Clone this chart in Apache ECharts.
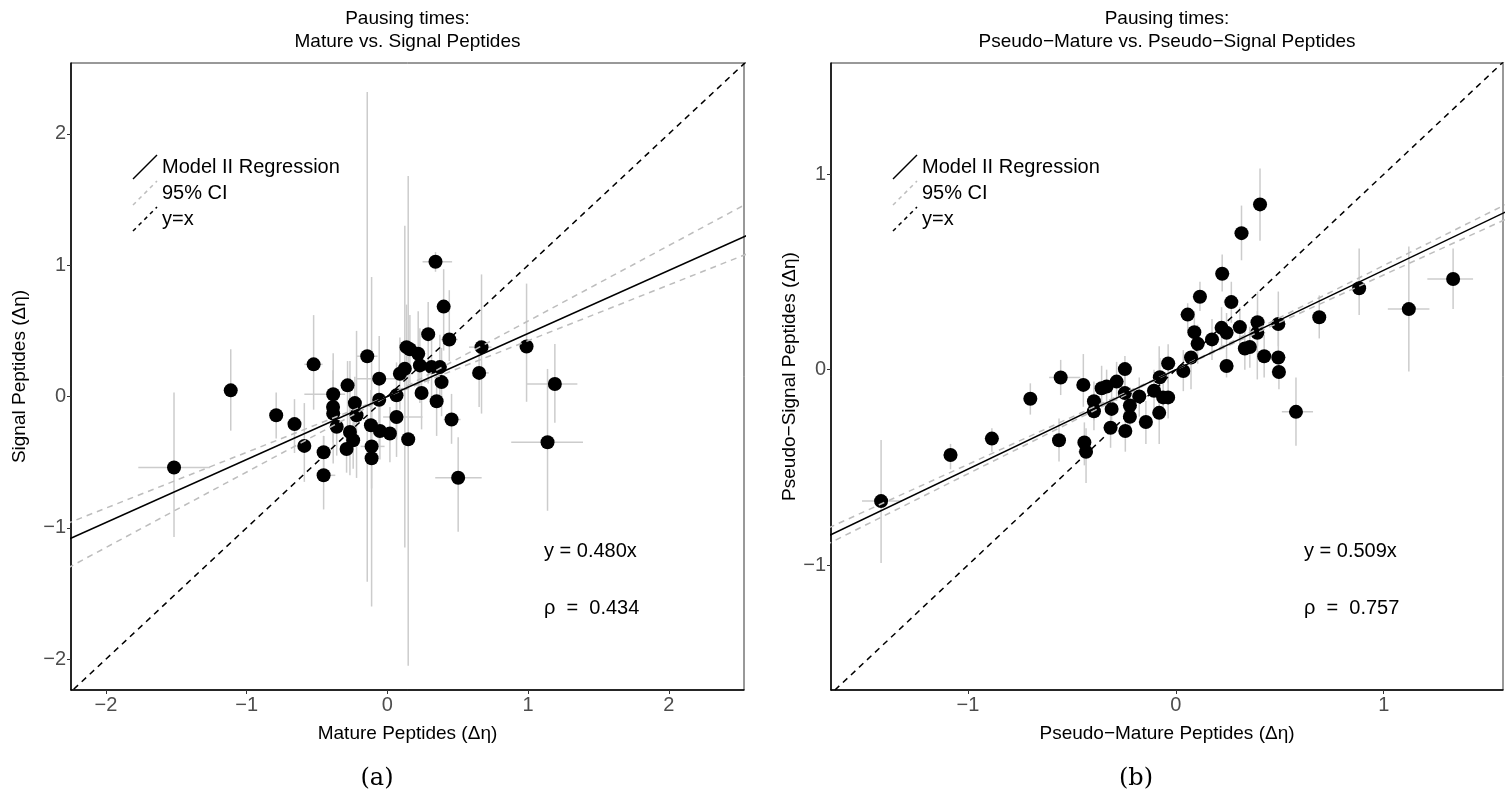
<!DOCTYPE html>
<html>
<head>
<meta charset="utf-8">
<title>Pausing times</title>
<script src="https://cdn.jsdelivr.net/npm/echarts@6.0.0/dist/echarts.min.js"></script>
<style>
  html, body { margin: 0; padding: 0; background: #fff; }
  #chart { width: 1510px; height: 802px; }
</style>
</head>
<body>
<div id="chart"></div>
<script>
// (a) mature vs signal peptides: point = [x, y], bar = [xlo, xhi, ylo, yhi]
const ptsA = [
  [-1.516, -0.540], [-1.113, 0.047], [-0.790, -0.143], [-0.660, -0.210], [-0.524, 0.245],
  [-0.590, -0.376], [-0.453, -0.424], [-0.453, -0.600], [-0.385, 0.017], [-0.386, -0.080],
  [-0.385, -0.130], [-0.283, 0.085], [-0.231, -0.050], [-0.143, 0.307], [-0.360, -0.230],
  [-0.290, -0.400], [-0.243, -0.333], [-0.112, -0.380], [-0.112, -0.470], [-0.058, 0.136],
  [-0.058, -0.024], [-0.219, -0.143], [-0.266, -0.270], [-0.117, -0.219], [-0.053, -0.262],
  [0.018, -0.282], [0.342, 1.026], [0.400, 0.685], [0.290, 0.475], [0.440, 0.434],
  [0.669, 0.376], [0.652, 0.180], [0.136, 0.376], [0.219, 0.326], [0.124, 0.212],
  [0.089, 0.174], [0.231, 0.237], [0.314, 0.224], [0.373, 0.224], [0.385, 0.110],
  [0.243, 0.027], [0.350, -0.036], [0.065, 0.009], [0.065, -0.156], [0.148, -0.325],
  [0.456, -0.175], [0.503, -0.619], [0.989, 0.381], [1.190, 0.095], [1.138, -0.348],
  [0.160, 0.360]
];
const barsA = [
  [-1.77, -1.26, -1.07, 0.03], [-1.15, -1.08, -0.26, 0.36], [-0.83, -0.75, -0.32, 0.03], [-0.70, -0.62, -0.43, -0.02], [-0.59, -0.46, -0.10, 0.62],
  [-0.63, -0.55, -0.65, -0.05], [-0.50, -0.40, -0.56, -0.30], [-0.50, -0.37, -0.86, -0.30], [-0.59, -0.30, -0.20, 0.33], [-0.43, -0.34, -0.35, 0.20],
  [-0.42, -0.35, -0.51, 0.10], [-0.33, -0.24, -0.30, 0.27], [-0.27, -0.19, -0.25, 0.15], [-0.22, -0.07, -1.41, 2.32], [-0.40, -0.32, -0.45, 0.00],
  [-0.33, -0.25, -0.58, -0.23], [-0.28, -0.20, -0.55, -0.10], [-0.19, -0.02, -0.70, -0.05], [-0.15, -0.08, -1.60, 0.91], [-0.22, 0.10, -0.23, 0.46],
  [-0.10, -0.02, -0.38, 0.18], [-0.26, -0.18, -0.62, 0.50], [-0.31, -0.22, -0.60, 0.27], [-0.16, -0.08, -0.45, 0.05], [-0.09, -0.01, -0.48, -0.05],
  [-0.02, 0.06, -0.50, -0.08], [0.25, 0.46, 0.95, 1.10], [0.36, 0.44, 0.35, 0.97], [0.25, 0.33, 0.10, 0.72], [0.38, 0.50, 0.27, 0.81],
  [0.58, 0.74, -0.13, 0.93], [0.60, 0.72, -0.08, 0.43], [0.09, 0.18, 0.05, 0.70], [0.17, 0.27, 0.00, 0.65], [0.08, 0.17, -1.15, 1.30],
  [0.05, 0.13, -0.10, 0.45], [0.19, 0.27, -0.05, 0.52], [0.27, 0.36, -0.05, 0.50], [0.33, 0.42, -0.02, 0.47], [0.34, 0.43, -0.15, 0.37],
  [0.20, 0.29, -0.25, 0.30], [0.31, 0.39, -0.30, 0.22], [0.02, 0.11, -0.33, 0.26], [-0.03, 0.25, -0.46, -0.05], [0.10, 0.19, -2.05, 1.68],
  [0.40, 0.52, -0.36, 0.02], [0.34, 0.67, -1.03, -0.31], [0.95, 1.03, -0.04, 0.86], [0.99, 1.35, -0.20, 0.40], [0.88, 1.39, -0.87, 0.21],
  [0.12, 0.20, 0.10, 0.62]
];
const fitA = 0.480;
const ciA = [0.425, 0.575];
const rhoA = 0.434;
const xRangeA = [-2.248, 2.534];
const yRangeA = [-2.235, 2.54];
const ticksA = [-2, -1, 0, 1, 2];

// (b) pseudo-mature vs pseudo-signal peptides
const ptsB = [
  [-1.418, -0.673], [-1.084, -0.437], [-0.885, -0.353], [-0.700, -0.149], [-0.554, -0.040],
  [-0.562, -0.361], [-0.445, -0.078], [-0.440, -0.373], [-0.432, -0.420], [-0.394, -0.162],
  [-0.394, -0.213], [-0.357, -0.095], [-0.333, -0.086], [-0.285, -0.061], [-0.245, 0.003],
  [-0.309, -0.201], [-0.314, -0.297], [-0.243, -0.314], [-0.245, -0.120], [-0.221, -0.184],
  [-0.221, -0.241], [-0.176, -0.137], [-0.144, -0.268], [-0.105, -0.108], [-0.080, -0.221],
  [-0.077, -0.039], [-0.061, -0.142], [-0.037, -0.142], [-0.037, 0.032], [0.036, -0.007],
  [0.073, 0.062], [0.105, 0.133], [0.089, 0.192], [0.057, 0.282], [0.116, 0.373],
  [0.174, 0.155], [0.223, 0.491], [0.220, 0.214], [0.244, 0.189], [0.267, 0.346],
  [0.244, 0.019], [0.316, 0.699], [0.405, 0.846], [0.308, 0.218], [0.332, 0.108],
  [0.356, 0.116], [0.393, 0.243], [0.392, 0.189], [0.425, 0.069], [0.493, 0.234],
  [0.493, 0.062], [0.496, -0.012], [0.578, -0.216], [0.690, 0.268], [0.882, 0.417],
  [1.121, 0.310], [1.334, 0.464]
];
const barsB = [
  [-1.51, -1.32, -0.99, -0.36], [-1.12, -1.05, -0.51, -0.38], [-0.92, -0.85, -0.42, -0.30], [-0.73, -0.67, -0.23, -0.07], [-0.61, -0.46, -0.13, 0.05],
  [-0.59, -0.53, -0.47, -0.25], [-0.48, -0.41, -0.19, 0.08], [-0.47, -0.41, -0.49, -0.27], [-0.47, -0.40, -0.58, -0.30], [-0.42, -0.37, -0.26, -0.06],
  [-0.42, -0.37, -0.31, -0.12], [-0.39, -0.33, -0.19, 0.02], [-0.36, -0.30, -0.17, 0.00], [-0.32, -0.25, -0.16, 0.04], [-0.28, -0.21, -0.09, 0.07],
  [-0.34, -0.28, -0.30, -0.10], [-0.35, -0.28, -0.40, -0.20], [-0.28, -0.21, -0.42, -0.21], [-0.28, -0.21, -0.22, -0.02], [-0.25, -0.19, -0.28, -0.09],
  [-0.25, -0.19, -0.34, -0.14], [-0.21, -0.14, -0.24, -0.04], [-0.18, -0.11, -0.38, -0.16], [-0.14, -0.07, -0.21, 0.00], [-0.11, -0.05, -0.38, 0.12],
  [-0.11, -0.04, -0.14, 0.06], [-0.09, -0.03, -0.24, -0.04], [-0.07, -0.01, -0.25, -0.04], [-0.07, 0.00, -0.07, 0.13], [0.00, 0.07, -0.11, 0.10],
  [0.04, 0.11, -0.10, 0.09], [0.07, 0.14, 0.03, 0.23], [0.06, 0.12, 0.08, 0.30], [0.02, 0.09, 0.20, 0.34], [0.08, 0.15, 0.30, 0.45],
  [0.14, 0.21, 0.05, 0.26], [0.19, 0.26, 0.40, 0.59], [0.19, 0.25, 0.11, 0.32], [0.21, 0.28, 0.08, 0.29], [0.23, 0.30, 0.24, 0.45],
  [0.21, 0.28, -0.04, 0.08], [0.28, 0.35, 0.56, 0.84], [0.37, 0.44, 0.66, 1.03], [0.27, 0.34, 0.11, 0.32], [0.30, 0.37, 0.00, 0.22],
  [0.32, 0.39, 0.01, 0.22], [0.36, 0.43, 0.12, 0.40], [0.36, 0.43, -0.05, 0.30], [0.39, 0.46, -0.04, 0.18], [0.46, 0.53, 0.12, 0.40],
  [0.46, 0.53, -0.03, 0.20], [0.46, 0.53, -0.10, 0.08], [0.51, 0.66, -0.39, -0.04], [0.66, 0.72, 0.16, 0.38], [0.85, 0.91, 0.28, 0.62],
  [1.02, 1.22, -0.01, 0.63], [1.21, 1.43, 0.31, 0.62]
];
const fitB = 0.509;
const ciB = [0.485, 0.533];
const rhoB = 0.757;
const xRangeB = [-1.659, 1.574];
const yRangeB = [-1.64, 1.57];
const ticksB = [-1, 0, 1];

const FONT = '"Liberation Sans", Arial, sans-serif';
const SERIF = '"DejaVu Serif", "Liberation Serif", serif';
const minus = v => String(v).replace('-', '\u2212');

const panels = [
  { pts: ptsA, bars: barsA, fit: fitA, ci: ciA, rho: rhoA, xr: xRangeA, yr: yRangeA, ticks: ticksA,
    left: 71, width: 673, xName: 'Mature Peptides (\u0394\u03b7)', yName: 'Signal Peptides (\u0394\u03b7)', yGap: 42,
    title: 'Mature vs. Signal Peptides', cap: '(a)', capX: 377 },
  { pts: ptsB, bars: barsB, fit: fitB, ci: ciB, rho: rhoB, xr: xRangeB, yr: yRangeB, ticks: ticksB,
    left: 831, width: 672, xName: 'Pseudo\u2212Mature Peptides (\u0394\u03b7)', yName: 'Pseudo\u2212Signal Peptides (\u0394\u03b7)', yGap: 32,
    title: 'Pseudo\u2212Mature vs. Pseudo\u2212Signal Peptides', cap: '(b)', capX: 1136 }
];
const TOP = 63, HEIGHT = 627;

function renderBars(params, api) {
  const x = api.value(0), y = api.value(1);
  const a = api.coord([api.value(2), y]), b = api.coord([api.value(3), y]);
  const c = api.coord([x, api.value(4)]), d = api.coord([x, api.value(5)]);
  const style = { stroke: '#cccccc', lineWidth: 1.5 };
  return { type: 'group', children: [
    { type: 'line', shape: { x1: a[0], y1: a[1], x2: b[0], y2: b[1] }, style },
    { type: 'line', shape: { x1: c[0], y1: c[1], x2: d[0], y2: d[1] }, style }
  ]};
}

function axisOf(i, p, range, name, gap) {
  return {
    type: 'value', gridIndex: i, min: range[0], max: range[1],
    name: name, nameLocation: 'middle', nameGap: gap,
    nameTextStyle: { fontFamily: FONT, fontSize: 19, color: '#000' },
    axisLine: { show: true, onZero: false, lineStyle: { color: '#000', width: 1.5 } },
    axisTick: { show: true, length: 4, customValues: p.ticks, lineStyle: { color: '#333', width: 1 } },
    axisLabel: { customValues: p.ticks, formatter: minus, fontFamily: FONT, fontSize: 20, color: '#4d4d4d', margin: 5 },
    splitLine: { show: false }
  };
}

const grids = [], xAxes = [], yAxes = [], series = [], graphics = [];
panels.forEach((p, i) => {
  grids.push({ left: p.left, top: TOP, width: p.width, height: HEIGHT, show: true, borderColor: '#333', borderWidth: 1 });
  xAxes.push(axisOf(i, p, p.xr, p.xName, 34));
  yAxes.push(axisOf(i, p, p.yr, p.yName, p.yGap));

  const ax = { xAxisIndex: i, yAxisIndex: i, animation: false, silent: true };
  series.push(Object.assign({
    type: 'custom', renderItem: renderBars, encode: { x: 0, y: 1 }, z: 2, clip: true,
    data: p.pts.map((pt, j) => pt.concat(p.bars[j]))
  }, ax));
  series.push(Object.assign({
    type: 'scatter', data: p.pts, symbolSize: 14, itemStyle: { color: '#000', opacity: 1 }, z: 4
  }, ax));
  const line = (slope, color, type) => Object.assign({
    type: 'line', symbol: 'none', clip: true, z: 6,
    data: [[p.xr[0] * 1.5, slope * p.xr[0] * 1.5], [p.xr[1] * 1.5, slope * p.xr[1] * 1.5]],
    lineStyle: { color: color, width: 1.5, type: type }
  }, ax);
  series.push(line(p.ci[0], '#bdbdbd', [6, 5]));
  series.push(line(p.ci[1], '#bdbdbd', [6, 5]));
  series.push(line(p.fit, '#000', 'solid'));
  series.push(line(1, '#000', [6, 5]));

  const cx = p.left + p.width / 2;
  const text = (t, x, y, size, align, family) => ({
    type: 'text', silent: true,
    style: { text: t, x: x, y: y, font: size + 'px ' + (family || FONT), fill: '#000',
      align: align, textAlign: align, verticalAlign: 'middle', textVerticalAlign: 'middle' }
  });
  graphics.push(text('Pausing times:', cx, 19, 19, 'center'));
  graphics.push(text(p.title, cx, 42, 19, 'center'));
  graphics.push(text(p.cap, p.capX, 779, 24, 'center', SERIF));
  graphics.push(text('y = ' + p.fit.toFixed(3) + 'x', p.left + 473, 551, 20, 'left'));
  graphics.push(text('\u03c1  =  ' + p.rho.toFixed(3), p.left + 473, 608, 20, 'left'));

  // legend: diagonal key glyphs like ggplot's abline keys
  const keys = [['Model II Regression', '#000', null], ['95% CI', '#bdbdbd', [4, 4]], ['y=x', '#000', [4, 4]]];
  keys.forEach((k, j) => {
    const yc = 167 + j * 26;
    graphics.push({ type: 'line', silent: true,
      shape: { x1: p.left + 62, y1: yc + 12, x2: p.left + 86, y2: yc - 12 },
      style: { stroke: k[1], lineWidth: 1.5, lineDash: k[2] } });
    graphics.push(text(k[0], p.left + 91, yc, 20, 'left'));
  });
});

const chart = echarts.init(document.getElementById('chart'));
chart.setOption({
  animation: false,
  backgroundColor: '#fff',
  grid: grids,
  xAxis: xAxes,
  yAxis: yAxes,
  series: series,
  graphic: graphics
});
</script>
</body>
</html>
